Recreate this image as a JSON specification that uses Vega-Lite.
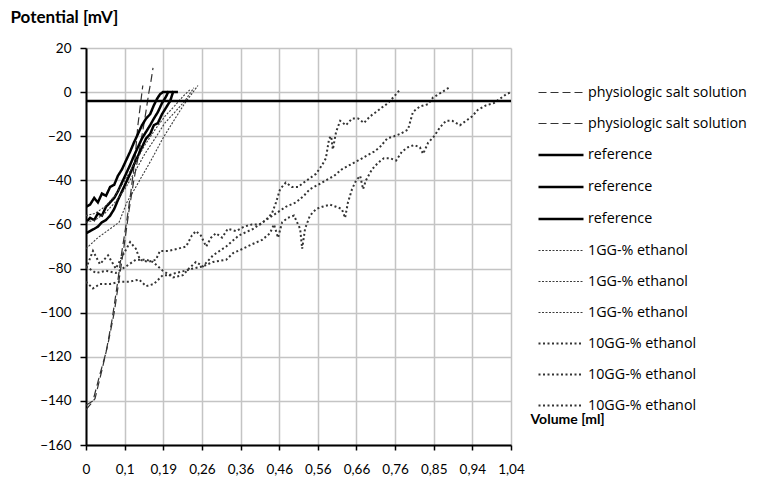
{
  "$schema": "https://vega.github.io/schema/vega-lite/v6.json",
  "width": 425,
  "height": 397,
  "autosize": {"type": "none"},
  "padding": {"left": 86, "top": 48, "right": 250, "bottom": 36},
  "config": {"font": "Lato", "view": {"stroke": null}},
  "layer": [
    {
      "data": {"values": [
        {"s":"physiologic salt solution|1","v":0,"p":-142},{"s":"physiologic salt solution|1","v":0.017,"p":-140},{"s":"physiologic salt solution|1","v":0.034,"p":-128},{"s":"physiologic salt solution|1","v":0.049,"p":-118},{"s":"physiologic salt solution|1","v":0.064,"p":-103},{"s":"physiologic salt solution|1","v":0.076,"p":-88},{"s":"physiologic salt solution|1","v":0.088,"p":-72},{"s":"physiologic salt solution|1","v":0.1,"p":-58},{"s":"physiologic salt solution|1","v":0.11,"p":-45},{"s":"physiologic salt solution|1","v":0.12,"p":-30},{"s":"physiologic salt solution|1","v":0.127,"p":-15},{"s":"physiologic salt solution|1","v":0.135,"p":-3},{"s":"physiologic salt solution|1","v":0.139,"p":3},
        {"s":"physiologic salt solution|2","v":0,"p":-144},{"s":"physiologic salt solution|2","v":0.022,"p":-139},{"s":"physiologic salt solution|2","v":0.039,"p":-126},{"s":"physiologic salt solution|2","v":0.054,"p":-114},{"s":"physiologic salt solution|2","v":0.069,"p":-100},{"s":"physiologic salt solution|2","v":0.081,"p":-85},{"s":"physiologic salt solution|2","v":0.093,"p":-70},{"s":"physiologic salt solution|2","v":0.105,"p":-54},{"s":"physiologic salt solution|2","v":0.117,"p":-40},{"s":"physiologic salt solution|2","v":0.132,"p":-25},{"s":"physiologic salt solution|2","v":0.144,"p":-12},{"s":"physiologic salt solution|2","v":0.154,"p":0},{"s":"physiologic salt solution|2","v":0.159,"p":5},{"s":"physiologic salt solution|2","v":0.164,"p":11},
        {"s":"reference|1","v":0,"p":-52},{"s":"reference|1","v":0.01,"p":-51},{"s":"reference|1","v":0.02,"p":-48},{"s":"reference|1","v":0.029,"p":-50},{"s":"reference|1","v":0.039,"p":-46},{"s":"reference|1","v":0.049,"p":-47},{"s":"reference|1","v":0.059,"p":-43},{"s":"reference|1","v":0.069,"p":-42},{"s":"reference|1","v":0.078,"p":-38},{"s":"reference|1","v":0.088,"p":-35},{"s":"reference|1","v":0.098,"p":-31},{"s":"reference|1","v":0.108,"p":-27},{"s":"reference|1","v":0.117,"p":-23},{"s":"reference|1","v":0.127,"p":-19},{"s":"reference|1","v":0.137,"p":-15},{"s":"reference|1","v":0.147,"p":-12},{"s":"reference|1","v":0.157,"p":-10},{"s":"reference|1","v":0.166,"p":-6},{"s":"reference|1","v":0.174,"p":-3},{"s":"reference|1","v":0.181,"p":-1},{"s":"reference|1","v":0.188,"p":0},{"s":"reference|1","v":0.201,"p":0},
        {"s":"reference|2","v":0,"p":-59},{"s":"reference|2","v":0.01,"p":-57},{"s":"reference|2","v":0.02,"p":-58},{"s":"reference|2","v":0.029,"p":-55},{"s":"reference|2","v":0.039,"p":-56},{"s":"reference|2","v":0.049,"p":-52},{"s":"reference|2","v":0.059,"p":-50},{"s":"reference|2","v":0.069,"p":-48},{"s":"reference|2","v":0.078,"p":-45},{"s":"reference|2","v":0.088,"p":-41},{"s":"reference|2","v":0.098,"p":-37},{"s":"reference|2","v":0.108,"p":-33},{"s":"reference|2","v":0.117,"p":-29},{"s":"reference|2","v":0.127,"p":-25},{"s":"reference|2","v":0.137,"p":-21},{"s":"reference|2","v":0.147,"p":-18},{"s":"reference|2","v":0.157,"p":-15},{"s":"reference|2","v":0.166,"p":-12},{"s":"reference|2","v":0.176,"p":-9},{"s":"reference|2","v":0.186,"p":-5},{"s":"reference|2","v":0.196,"p":-2},{"s":"reference|2","v":0.201,"p":0},{"s":"reference|2","v":0.213,"p":0},
        {"s":"reference|3","v":0,"p":-64},{"s":"reference|3","v":0.01,"p":-63},{"s":"reference|3","v":0.02,"p":-62},{"s":"reference|3","v":0.029,"p":-61},{"s":"reference|3","v":0.039,"p":-59},{"s":"reference|3","v":0.049,"p":-58},{"s":"reference|3","v":0.059,"p":-56},{"s":"reference|3","v":0.069,"p":-53},{"s":"reference|3","v":0.078,"p":-49},{"s":"reference|3","v":0.088,"p":-45},{"s":"reference|3","v":0.098,"p":-41},{"s":"reference|3","v":0.108,"p":-37},{"s":"reference|3","v":0.117,"p":-33},{"s":"reference|3","v":0.127,"p":-29},{"s":"reference|3","v":0.137,"p":-25},{"s":"reference|3","v":0.147,"p":-21},{"s":"reference|3","v":0.157,"p":-19},{"s":"reference|3","v":0.166,"p":-15},{"s":"reference|3","v":0.176,"p":-14},{"s":"reference|3","v":0.186,"p":-10},{"s":"reference|3","v":0.196,"p":-7},{"s":"reference|3","v":0.206,"p":-4},{"s":"reference|3","v":0.213,"p":0},{"s":"reference|3","v":0.225,"p":0},
        {"s":"1GG-% ethanol|1","v":0,"p":-56},{"s":"1GG-% ethanol|1","v":0.022,"p":-55},{"s":"1GG-% ethanol|1","v":0.046,"p":-52},{"s":"1GG-% ethanol|1","v":0.071,"p":-47},{"s":"1GG-% ethanol|1","v":0.095,"p":-40},{"s":"1GG-% ethanol|1","v":0.12,"p":-32},{"s":"1GG-% ethanol|1","v":0.144,"p":-24},{"s":"1GG-% ethanol|1","v":0.169,"p":-17},{"s":"1GG-% ethanol|1","v":0.193,"p":-11},{"s":"1GG-% ethanol|1","v":0.218,"p":-6},{"s":"1GG-% ethanol|1","v":0.237,"p":-2},{"s":"1GG-% ethanol|1","v":0.254,"p":1},
        {"s":"1GG-% ethanol|2","v":0,"p":-59},{"s":"1GG-% ethanol|2","v":0.022,"p":-58},{"s":"1GG-% ethanol|2","v":0.046,"p":-55},{"s":"1GG-% ethanol|2","v":0.071,"p":-50},{"s":"1GG-% ethanol|2","v":0.095,"p":-44},{"s":"1GG-% ethanol|2","v":0.12,"p":-36},{"s":"1GG-% ethanol|2","v":0.144,"p":-28},{"s":"1GG-% ethanol|2","v":0.169,"p":-21},{"s":"1GG-% ethanol|2","v":0.193,"p":-14},{"s":"1GG-% ethanol|2","v":0.218,"p":-9},{"s":"1GG-% ethanol|2","v":0.242,"p":-4},{"s":"1GG-% ethanol|2","v":0.264,"p":2},
        {"s":"1GG-% ethanol|3","v":0,"p":-71},{"s":"1GG-% ethanol|3","v":0.029,"p":-66},{"s":"1GG-% ethanol|3","v":0.059,"p":-62},{"s":"1GG-% ethanol|3","v":0.081,"p":-59},{"s":"1GG-% ethanol|3","v":0.1,"p":-50},{"s":"1GG-% ethanol|3","v":0.122,"p":-43},{"s":"1GG-% ethanol|3","v":0.159,"p":-31},{"s":"1GG-% ethanol|3","v":0.188,"p":-21},{"s":"1GG-% ethanol|3","v":0.218,"p":-12},{"s":"1GG-% ethanol|3","v":0.242,"p":-5},{"s":"1GG-% ethanol|3","v":0.262,"p":0},{"s":"1GG-% ethanol|3","v":0.274,"p":3},
        {"s":"10GG-% ethanol|1","v":0,"p":-80},{"s":"10GG-% ethanol|1","v":0.017,"p":-72},{"s":"10GG-% ethanol|1","v":0.034,"p":-78},{"s":"10GG-% ethanol|1","v":0.054,"p":-74},{"s":"10GG-% ethanol|1","v":0.073,"p":-80},{"s":"10GG-% ethanol|1","v":0.093,"p":-73},{"s":"10GG-% ethanol|1","v":0.108,"p":-68},{"s":"10GG-% ethanol|1","v":0.122,"p":-71},{"s":"10GG-% ethanol|1","v":0.132,"p":-76},{"s":"10GG-% ethanol|1","v":0.152,"p":-77},{"s":"10GG-% ethanol|1","v":0.171,"p":-76},{"s":"10GG-% ethanol|1","v":0.181,"p":-72},{"s":"10GG-% ethanol|1","v":0.201,"p":-72},{"s":"10GG-% ethanol|1","v":0.225,"p":-71},{"s":"10GG-% ethanol|1","v":0.245,"p":-70},{"s":"10GG-% ethanol|1","v":0.259,"p":-65},{"s":"10GG-% ethanol|1","v":0.269,"p":-63},{"s":"10GG-% ethanol|1","v":0.281,"p":-65},{"s":"10GG-% ethanol|1","v":0.294,"p":-70},{"s":"10GG-% ethanol|1","v":0.306,"p":-66},{"s":"10GG-% ethanol|1","v":0.318,"p":-64},{"s":"10GG-% ethanol|1","v":0.333,"p":-66},{"s":"10GG-% ethanol|1","v":0.347,"p":-62},{"s":"10GG-% ethanol|1","v":0.367,"p":-63},{"s":"10GG-% ethanol|1","v":0.387,"p":-61},{"s":"10GG-% ethanol|1","v":0.406,"p":-60},{"s":"10GG-% ethanol|1","v":0.426,"p":-60},{"s":"10GG-% ethanol|1","v":0.44,"p":-58},{"s":"10GG-% ethanol|1","v":0.455,"p":-55},{"s":"10GG-% ethanol|1","v":0.465,"p":-50},{"s":"10GG-% ethanol|1","v":0.475,"p":-44},{"s":"10GG-% ethanol|1","v":0.489,"p":-41},{"s":"10GG-% ethanol|1","v":0.504,"p":-43},{"s":"10GG-% ethanol|1","v":0.519,"p":-43},{"s":"10GG-% ethanol|1","v":0.533,"p":-41},{"s":"10GG-% ethanol|1","v":0.548,"p":-39},{"s":"10GG-% ethanol|1","v":0.563,"p":-37},{"s":"10GG-% ethanol|1","v":0.578,"p":-33},{"s":"10GG-% ethanol|1","v":0.587,"p":-30},{"s":"10GG-% ethanol|1","v":0.595,"p":-21},{"s":"10GG-% ethanol|1","v":0.6,"p":-20},{"s":"10GG-% ethanol|1","v":0.604,"p":-26},{"s":"10GG-% ethanol|1","v":0.612,"p":-18},{"s":"10GG-% ethanol|1","v":0.622,"p":-13},{"s":"10GG-% ethanol|1","v":0.636,"p":-15},{"s":"10GG-% ethanol|1","v":0.651,"p":-12},{"s":"10GG-% ethanol|1","v":0.666,"p":-12},{"s":"10GG-% ethanol|1","v":0.68,"p":-14},{"s":"10GG-% ethanol|1","v":0.695,"p":-11},{"s":"10GG-% ethanol|1","v":0.71,"p":-9},{"s":"10GG-% ethanol|1","v":0.724,"p":-7},{"s":"10GG-% ethanol|1","v":0.739,"p":-5},{"s":"10GG-% ethanol|1","v":0.754,"p":-2},{"s":"10GG-% ethanol|1","v":0.763,"p":0},{"s":"10GG-% ethanol|1","v":0.768,"p":1},
        {"s":"10GG-% ethanol|2","v":0,"p":-79},{"s":"10GG-% ethanol|2","v":0.024,"p":-82},{"s":"10GG-% ethanol|2","v":0.049,"p":-81},{"s":"10GG-% ethanol|2","v":0.073,"p":-82},{"s":"10GG-% ethanol|2","v":0.098,"p":-79},{"s":"10GG-% ethanol|2","v":0.122,"p":-76},{"s":"10GG-% ethanol|2","v":0.147,"p":-76},{"s":"10GG-% ethanol|2","v":0.164,"p":-77},{"s":"10GG-% ethanol|2","v":0.188,"p":-81},{"s":"10GG-% ethanol|2","v":0.213,"p":-84},{"s":"10GG-% ethanol|2","v":0.237,"p":-83},{"s":"10GG-% ethanol|2","v":0.252,"p":-80},{"s":"10GG-% ethanol|2","v":0.269,"p":-77},{"s":"10GG-% ethanol|2","v":0.286,"p":-79},{"s":"10GG-% ethanol|2","v":0.311,"p":-74},{"s":"10GG-% ethanol|2","v":0.343,"p":-70},{"s":"10GG-% ethanol|2","v":0.374,"p":-65},{"s":"10GG-% ethanol|2","v":0.409,"p":-62},{"s":"10GG-% ethanol|2","v":0.44,"p":-58},{"s":"10GG-% ethanol|2","v":0.465,"p":-55},{"s":"10GG-% ethanol|2","v":0.489,"p":-52},{"s":"10GG-% ethanol|2","v":0.514,"p":-50},{"s":"10GG-% ethanol|2","v":0.533,"p":-47},{"s":"10GG-% ethanol|2","v":0.548,"p":-44},{"s":"10GG-% ethanol|2","v":0.568,"p":-42},{"s":"10GG-% ethanol|2","v":0.587,"p":-40},{"s":"10GG-% ethanol|2","v":0.607,"p":-38},{"s":"10GG-% ethanol|2","v":0.626,"p":-35},{"s":"10GG-% ethanol|2","v":0.646,"p":-33},{"s":"10GG-% ethanol|2","v":0.666,"p":-31},{"s":"10GG-% ethanol|2","v":0.685,"p":-29},{"s":"10GG-% ethanol|2","v":0.705,"p":-27},{"s":"10GG-% ethanol|2","v":0.719,"p":-25},{"s":"10GG-% ethanol|2","v":0.737,"p":-21},{"s":"10GG-% ethanol|2","v":0.754,"p":-20},{"s":"10GG-% ethanol|2","v":0.768,"p":-19},{"s":"10GG-% ethanol|2","v":0.788,"p":-17},{"s":"10GG-% ethanol|2","v":0.8,"p":-9},{"s":"10GG-% ethanol|2","v":0.817,"p":-6.5},{"s":"10GG-% ethanol|2","v":0.837,"p":-5.5},{"s":"10GG-% ethanol|2","v":0.849,"p":-2.5},{"s":"10GG-% ethanol|2","v":0.871,"p":0},{"s":"10GG-% ethanol|2","v":0.888,"p":2},
        {"s":"10GG-% ethanol|3","v":0,"p":-86},{"s":"10GG-% ethanol|3","v":0.017,"p":-89},{"s":"10GG-% ethanol|3","v":0.034,"p":-87},{"s":"10GG-% ethanol|3","v":0.059,"p":-87},{"s":"10GG-% ethanol|3","v":0.081,"p":-86},{"s":"10GG-% ethanol|3","v":0.105,"p":-86},{"s":"10GG-% ethanol|3","v":0.13,"p":-85},{"s":"10GG-% ethanol|3","v":0.147,"p":-88},{"s":"10GG-% ethanol|3","v":0.166,"p":-87},{"s":"10GG-% ethanol|3","v":0.188,"p":-83},{"s":"10GG-% ethanol|3","v":0.203,"p":-83},{"s":"10GG-% ethanol|3","v":0.22,"p":-82},{"s":"10GG-% ethanol|3","v":0.242,"p":-81},{"s":"10GG-% ethanol|3","v":0.262,"p":-80},{"s":"10GG-% ethanol|3","v":0.286,"p":-79},{"s":"10GG-% ethanol|3","v":0.311,"p":-77},{"s":"10GG-% ethanol|3","v":0.343,"p":-76},{"s":"10GG-% ethanol|3","v":0.36,"p":-73},{"s":"10GG-% ethanol|3","v":0.384,"p":-71},{"s":"10GG-% ethanol|3","v":0.406,"p":-69},{"s":"10GG-% ethanol|3","v":0.431,"p":-67},{"s":"10GG-% ethanol|3","v":0.45,"p":-64},{"s":"10GG-% ethanol|3","v":0.46,"p":-60},{"s":"10GG-% ethanol|3","v":0.47,"p":-66},{"s":"10GG-% ethanol|3","v":0.48,"p":-59},{"s":"10GG-% ethanol|3","v":0.494,"p":-57},{"s":"10GG-% ethanol|3","v":0.509,"p":-56},{"s":"10GG-% ethanol|3","v":0.524,"p":-62},{"s":"10GG-% ethanol|3","v":0.529,"p":-71},{"s":"10GG-% ethanol|3","v":0.536,"p":-62},{"s":"10GG-% ethanol|3","v":0.548,"p":-56},{"s":"10GG-% ethanol|3","v":0.563,"p":-53},{"s":"10GG-% ethanol|3","v":0.578,"p":-52},{"s":"10GG-% ethanol|3","v":0.597,"p":-51},{"s":"10GG-% ethanol|3","v":0.612,"p":-52},{"s":"10GG-% ethanol|3","v":0.626,"p":-53},{"s":"10GG-% ethanol|3","v":0.634,"p":-57},{"s":"10GG-% ethanol|3","v":0.641,"p":-50},{"s":"10GG-% ethanol|3","v":0.651,"p":-44},{"s":"10GG-% ethanol|3","v":0.661,"p":-40},{"s":"10GG-% ethanol|3","v":0.671,"p":-38},{"s":"10GG-% ethanol|3","v":0.678,"p":-44},{"s":"10GG-% ethanol|3","v":0.685,"p":-40},{"s":"10GG-% ethanol|3","v":0.7,"p":-35},{"s":"10GG-% ethanol|3","v":0.715,"p":-32},{"s":"10GG-% ethanol|3","v":0.729,"p":-30},{"s":"10GG-% ethanol|3","v":0.744,"p":-30},{"s":"10GG-% ethanol|3","v":0.759,"p":-31},{"s":"10GG-% ethanol|3","v":0.773,"p":-27},{"s":"10GG-% ethanol|3","v":0.788,"p":-25},{"s":"10GG-% ethanol|3","v":0.803,"p":-24},{"s":"10GG-% ethanol|3","v":0.817,"p":-25},{"s":"10GG-% ethanol|3","v":0.825,"p":-28},{"s":"10GG-% ethanol|3","v":0.837,"p":-23},{"s":"10GG-% ethanol|3","v":0.852,"p":-20},{"s":"10GG-% ethanol|3","v":0.866,"p":-16},{"s":"10GG-% ethanol|3","v":0.881,"p":-13},{"s":"10GG-% ethanol|3","v":0.896,"p":-13},{"s":"10GG-% ethanol|3","v":0.915,"p":-15},{"s":"10GG-% ethanol|3","v":0.93,"p":-13},{"s":"10GG-% ethanol|3","v":0.945,"p":-11},{"s":"10GG-% ethanol|3","v":0.959,"p":-8},{"s":"10GG-% ethanol|3","v":0.979,"p":-6},{"s":"10GG-% ethanol|3","v":0.998,"p":-5},{"s":"10GG-% ethanol|3","v":1.013,"p":-3},{"s":"10GG-% ethanol|3","v":1.028,"p":-1},{"s":"10GG-% ethanol|3","v":1.04,"p":0}
      ]},
      "mark": {"type": "line", "clip": true},
      "encoding": {
        "x": {
          "field": "v", "type": "quantitative",
          "scale": {"domain": [0, 1.04], "nice": false, "zero": false},
          "axis": {
            "values": [0, 0.094545, 0.189091, 0.283636, 0.378182, 0.472727, 0.567273, 0.661818, 0.756364, 0.850909, 0.945455, 1.04],
            "labelExpr": "['0','0,1','0,19','0,26','0,36','0,46','0,56','0,66','0,76','0,85','0,94','1,04'][round(datum.value*11/1.04)]",
            "title": "Volume [ml]", "titleX": 444, "titleY": -26, "titleAlign": "left", "titleBaseline": "middle",
            "titleFont": "Lato", "titleFontSize": 14, "titleFontWeight": "bold", "titleColor": "#000",
            "grid": true, "gridColor": "#c4c4c4", "gridWidth": 1.5,
            "domainColor": "#000", "domainWidth": 2, "tickColor": "#000", "tickWidth": 1.5, "tickSize": 5,
            "labelFont": "Lato", "labelFontSize": 13.5, "labelColor": "#000", "labelPadding": 12, "labelFlush": false, "labelOverlap": false
          }
        },
        "y": {
          "field": "p", "type": "quantitative",
          "scale": {"domain": [-160, 20], "nice": false, "zero": false},
          "axis": {
            "values": [-160, -140, -120, -100, -80, -60, -40, -20, 0, 20],
            "title": "Potential [mV]", "titleAngle": 0, "titleX": -76, "titleY": -31, "titleAlign": "left", "titleBaseline": "middle",
            "titleFont": "Lato", "titleFontSize": 17, "titleFontWeight": "bold", "titleColor": "#000",
            "grid": true, "gridColor": "#c4c4c4", "gridWidth": 1.5,
            "domainColor": "#000", "domainWidth": 2, "tickColor": "#000", "tickWidth": 1.5, "tickSize": 6,
            "labelFont": "Lato", "labelFontSize": 13.5, "labelColor": "#000", "labelPadding": 9, "labelOverlap": false
          }
        },
        "color": {
          "field": "s", "type": "nominal",
          "scale": {
            "domain": ["physiologic salt solution|1", "physiologic salt solution|2", "reference|1", "reference|2", "reference|3", "1GG-% ethanol|1", "1GG-% ethanol|2", "1GG-% ethanol|3", "10GG-% ethanol|1", "10GG-% ethanol|2", "10GG-% ethanol|3"],
            "range": ["#333333", "#333333", "#000000", "#000000", "#000000", "#3c3c3c", "#3c3c3c", "#3c3c3c", "#333333", "#333333", "#333333"]
          },
          "legend": {
            "orient": "none", "legendX": 451, "legendY": 21, "title": null,
            "symbolType": "stroke", "symbolSize": 2025,
            "labelFont": "Open Sans", "labelFontSize": 14.3, "labelColor": "#000", "labelLimit": 300, "labelOffset": 3,
            "rowPadding": 0,
            "labelExpr": "split(datum.label, '|')[0]"
          }
        },
        "strokeDash": {
          "field": "s", "type": "nominal",
          "scale": {
            "domain": ["physiologic salt solution|1", "physiologic salt solution|2", "reference|1", "reference|2", "reference|3", "1GG-% ethanol|1", "1GG-% ethanol|2", "1GG-% ethanol|3", "10GG-% ethanol|1", "10GG-% ethanol|2", "10GG-% ethanol|3"],
            "range": [[8, 4], [8, 4], [1, 0], [1, 0], [1, 0], [2, 1.5], [2, 1.5], [2, 1.5], [2, 2.5], [2, 2.5], [2, 2.5]]
          }
        },
        "strokeWidth": {
          "field": "s", "type": "nominal",
          "scale": {
            "type": "ordinal",
            "domain": ["physiologic salt solution|1", "physiologic salt solution|2", "reference|1", "reference|2", "reference|3", "1GG-% ethanol|1", "1GG-% ethanol|2", "1GG-% ethanol|3", "10GG-% ethanol|1", "10GG-% ethanol|2", "10GG-% ethanol|3"],
            "range": [1.2, 1.2, 2.5, 2.5, 2.5, 1.1, 1.1, 1.1, 2, 2, 2]
          }
        }
      }
    },
    {
      "data": {"values": [{"level": -4}]},
      "mark": {"type": "rule", "color": "#000000", "strokeWidth": 2.5},
      "encoding": {"y": {"field": "level", "type": "quantitative"}}
    }
  ]
}
